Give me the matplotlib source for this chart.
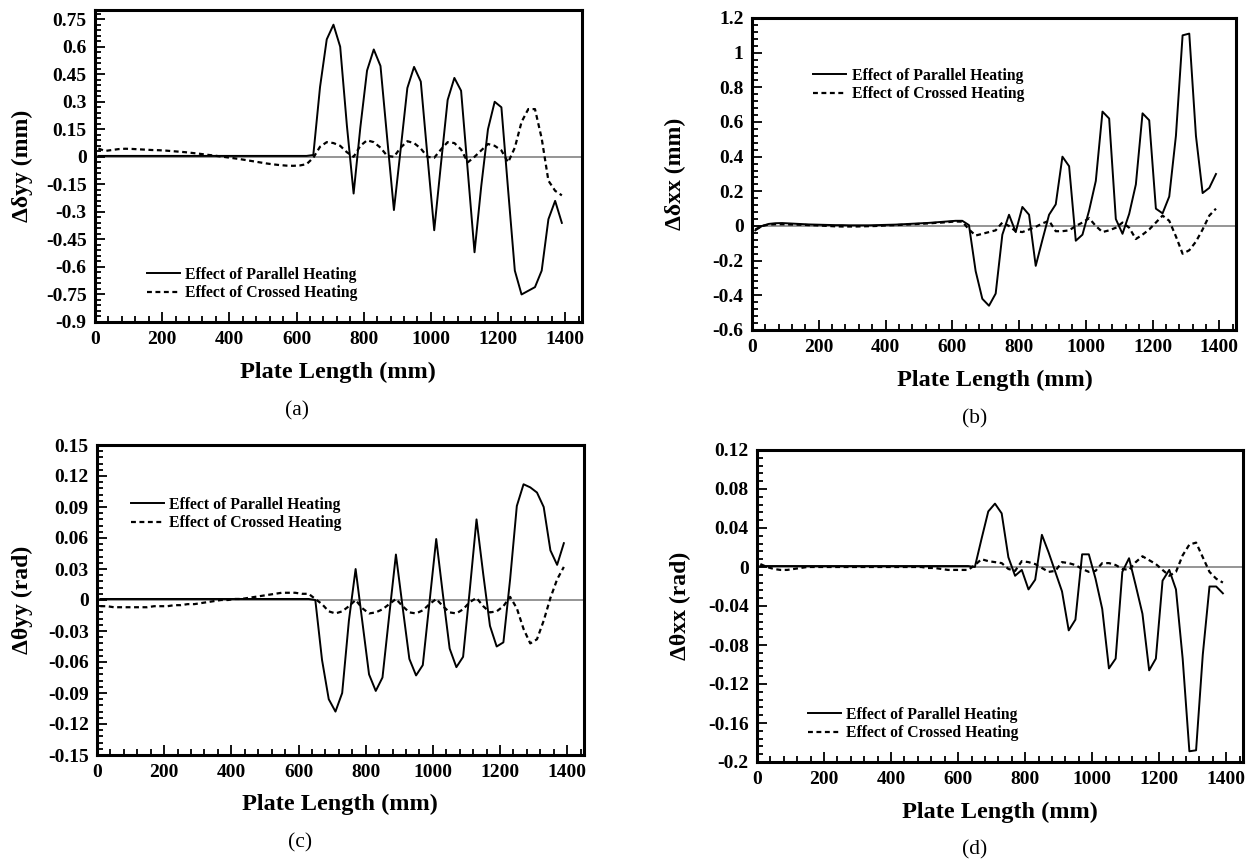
import matplotlib
matplotlib.use("Agg")
import matplotlib.pyplot as plt
from matplotlib.ticker import AutoMinorLocator

plt.rcParams['font.family'] = ['Liberation Serif', 'DejaVu Serif']
plt.rcParams['axes.unicode_minus'] = False

# plate length positions (mm)
x = [10, 30, 50, 70, 90, 110, 130, 150, 170, 190,
     210, 230, 250, 270, 290, 310, 330, 350, 370, 390,
     410, 430, 450, 470, 490, 510, 530, 550, 570, 590,
     610, 630, 650, 670, 690, 710, 730, 750, 770, 790,
     810, 830, 850, 870, 890, 910, 930, 950, 970, 990,
     1010, 1030, 1050, 1070, 1090, 1110, 1130, 1150, 1170, 1190,
     1210, 1230, 1250, 1270, 1290, 1310, 1330, 1350, 1370, 1390]

# (a) delta delta_yy (mm)
dyy_par = [0.005, 0.005, 0.005, 0.005, 0.005, 0.005, 0.005, 0.005, 0.005, 0.005,
           0.005, 0.005, 0.005, 0.005, 0.005, 0.005, 0.005, 0.005, 0.005, 0.005,
           0.005, 0.005, 0.005, 0.005, 0.005, 0.005, 0.005, 0.005, 0.005, 0.005,
           0.005, 0.005, 0.01, 0.38, 0.64, 0.72, 0.60, 0.17, -0.20, 0.16,
           0.47, 0.585, 0.495, 0.10, -0.29, 0.04, 0.375, 0.49, 0.41, 0.0,
           -0.40, -0.04, 0.31, 0.43, 0.36, -0.08, -0.52, -0.16, 0.15, 0.30,
           0.27, -0.18, -0.62, -0.75, -0.73, -0.71, -0.62, -0.34, -0.24, -0.36]
dyy_cr = [0.045, 0.032, 0.037, 0.042, 0.044, 0.043, 0.041, 0.039, 0.037, 0.036,
          0.034, 0.031, 0.028, 0.025, 0.021, 0.017, 0.012, 0.008, 0.003, -0.002,
          -0.007, -0.012, -0.018, -0.024, -0.030, -0.036, -0.041, -0.045, -0.048, -0.049,
          -0.047, -0.040, -0.005, 0.055, 0.08, 0.075, 0.06, 0.025, 0.0, 0.06,
          0.09, 0.08, 0.05, 0.005, 0.0, 0.05, 0.085, 0.075, 0.045, 0.0,
          -0.005, 0.04, 0.08, 0.075, 0.04, -0.03, 0.0, 0.035, 0.07, 0.06,
          0.035, -0.03, 0.05, 0.19, 0.26, 0.26, 0.10, -0.13, -0.185, -0.21]

# (b) delta delta_xx (mm)
dxx_par = [-0.025, 0.0, 0.012, 0.016, 0.017, 0.015, 0.013, 0.011, 0.009, 0.008,
           0.007, 0.006, 0.005, 0.005, 0.004, 0.004, 0.004, 0.004, 0.005, 0.006,
           0.007, 0.008, 0.010, 0.012, 0.014, 0.016, 0.018, 0.021, 0.024, 0.027,
           0.030, 0.030, 0.005, -0.26, -0.42, -0.46, -0.39, -0.05, 0.065, -0.035,
           0.11, 0.065, -0.23, -0.08, 0.065, 0.125, 0.40, 0.345, -0.085, -0.05,
           0.09, 0.26, 0.66, 0.62, 0.04, -0.045, 0.07, 0.24, 0.65, 0.61,
           0.10, 0.073, 0.17, 0.52, 1.10, 1.11, 0.52, 0.19, 0.22, 0.30]
dxx_cr = [-0.02, 0.0, 0.008, 0.01, 0.01, 0.009, 0.008, 0.007, 0.005, 0.004,
          0.002, 0.0, -0.002, -0.003, -0.003, -0.003, -0.002, -0.001, 0.0, 0.002,
          0.004, 0.005, 0.007, 0.009, 0.011, 0.013, 0.015, 0.018, 0.02, 0.023,
          0.026, 0.025, -0.02, -0.055, -0.045, -0.035, -0.025, 0.02, 0.0, -0.03,
          -0.035, -0.02, -0.005, 0.015, 0.03, -0.03, -0.03, -0.025, 0.0, 0.02,
          0.045, 0.0, -0.035, -0.025, -0.01, 0.02, -0.01, -0.075, -0.05, -0.02,
          0.02, 0.06, 0.03, -0.06, -0.16, -0.14, -0.09, -0.02, 0.06, 0.10]

# (c) delta theta_yy (rad)
tyy_par = [0.001, 0.001, 0.001, 0.001, 0.001, 0.001, 0.001, 0.001, 0.001, 0.001,
           0.001, 0.001, 0.001, 0.001, 0.001, 0.001, 0.001, 0.001, 0.001, 0.001,
           0.001, 0.001, 0.001, 0.001, 0.001, 0.001, 0.001, 0.001, 0.001, 0.001,
           0.001, 0.001, 0.0, -0.058, -0.096, -0.108, -0.09, -0.02, 0.03, -0.021,
           -0.072, -0.088, -0.075, -0.015, 0.044, -0.007, -0.057, -0.073, -0.063, -0.002,
           0.059, 0.005, -0.047, -0.065, -0.055, 0.01, 0.078, 0.025, -0.025, -0.045,
           -0.041, 0.02, 0.091, 0.112, 0.109, 0.104, 0.09, 0.048, 0.034, 0.055]
tyy_cr = [-0.006, -0.006, -0.007, -0.007, -0.007, -0.007, -0.007, -0.007, -0.006, -0.006,
          -0.006, -0.005, -0.005, -0.004, -0.004, -0.003, -0.002, -0.001, 0.0, 0.0,
          0.001, 0.001, 0.002, 0.003, 0.004, 0.005, 0.006, 0.007, 0.007, 0.007,
          0.006, 0.006, 0.001, -0.004, -0.011, -0.013, -0.011, -0.006, 0.0, -0.008,
          -0.013, -0.012, -0.009, -0.004, 0.001, -0.006, -0.012, -0.013, -0.01, -0.004,
          0.001, -0.006, -0.012, -0.013, -0.009, -0.002, 0.002, -0.006, -0.012, -0.011,
          -0.006, 0.003, -0.008, -0.028, -0.042, -0.038, -0.02, 0.002, 0.02, 0.032]

# (d) delta theta_xx (rad)
txx_par = [0.001, 0.001, 0.001, 0.001, 0.001, 0.001, 0.001, 0.001, 0.001, 0.001,
           0.001, 0.001, 0.001, 0.001, 0.001, 0.001, 0.001, 0.001, 0.001, 0.001,
           0.001, 0.001, 0.001, 0.001, 0.001, 0.001, 0.001, 0.001, 0.001, 0.001,
           0.001, 0.001, 0.0, 0.029, 0.057, 0.065, 0.055, 0.010, -0.009, -0.003,
           -0.023, -0.013, 0.033, 0.015, -0.005, -0.025, -0.065, -0.054, 0.013, 0.013,
           -0.012, -0.043, -0.104, -0.094, -0.005, 0.009, -0.019, -0.048, -0.106, -0.094,
           -0.014, -0.003, -0.023, -0.094, -0.189, -0.188, -0.09, -0.02, -0.02, -0.027]
txx_cr = [0.003, 0.0, -0.002, -0.003, -0.003, -0.002, -0.001, 0.0, 0.0, 0.0,
          0.0, 0.0, 0.0, 0.0, 0.0, 0.0, 0.0, 0.0, 0.0, 0.0,
          0.0, 0.0, 0.0, 0.0, 0.0, -0.001, -0.001, -0.002, -0.003, -0.003,
          -0.003, -0.003, 0.002, 0.008, 0.006, 0.005, 0.004, -0.002, -0.004, 0.006,
          0.005, 0.003, -0.001, -0.005, -0.004, 0.005, 0.004, 0.002, -0.002, -0.005,
          -0.004, 0.004, 0.004, 0.002, -0.002, -0.003, 0.005, 0.011, 0.007, 0.003,
          -0.003, -0.009, -0.005, 0.012, 0.023, 0.025, 0.01, -0.005, -0.012, -0.016]

xticks = [0, 200, 400, 600, 800, 1000, 1200, 1400]
yticks_a = [-0.9, -0.75, -0.6, -0.45, -0.3, -0.15, 0, 0.15, 0.3, 0.45, 0.6, 0.75]
yticks_b = [-0.6, -0.4, -0.2, 0, 0.2, 0.4, 0.6, 0.8, 1, 1.2]
yticks_c = [-0.15, -0.12, -0.09, -0.06, -0.03, 0, 0.03, 0.06, 0.09, 0.12, 0.15]
yticks_d = [-0.2, -0.16, -0.12, -0.08, -0.04, 0, 0.04, 0.08, 0.12]

W, H = 1252, 861
fig = plt.figure(figsize=(W / 100, H / 100), dpi=100)


def panel(box, par, cr, yticks, ylim, ylabel, ylab_xy, xlab_xy, cap, cap_xy, leg_xy):
    l, t, r, b = box
    ax = fig.add_axes([l / W, 1 - b / H, (r - l) / W, (b - t) / H])
    ax.axhline(0, color='#8c8c8c', lw=1.3, zorder=1)
    ax.plot(x, par, color='black', lw=1.4, label='Effect of Parallel Heating', zorder=3)
    ax.plot(x, cr, color='black', lw=1.6, ls=(0, (2.2, 1.6)),
            label='Effect of Crossed Heating', zorder=2)
    ax.set_xlim(0, 1450)
    ax.set_ylim(*ylim)
    ax.set_xticks(xticks)
    ax.set_xticklabels([str(v) for v in xticks])
    ax.set_yticks(yticks)
    ax.set_yticklabels(['%g' % v for v in yticks])
    ax.xaxis.set_minor_locator(AutoMinorLocator(5))
    ax.yaxis.set_minor_locator(AutoMinorLocator(5))
    ax.tick_params(which='both', direction='in', top=False, right=False, width=1.3)
    ax.tick_params(which='major', length=7, labelsize=14)
    ax.tick_params(which='minor', length=4)
    ax.tick_params(axis='x', pad=6.5)
    ax.tick_params(axis='y', pad=6)
    for lab in ax.get_xticklabels() + ax.get_yticklabels():
        lab.set_fontweight('bold')
    for s in ax.spines.values():
        s.set_linewidth(2.2)
    ax.legend(loc='upper left', bbox_to_anchor=leg_xy, frameon=False,
              borderpad=0, handlelength=2.1, handletextpad=0.35,
              labelspacing=0.15, prop={'weight': 'bold', 'size': 11.3})
    fig.text(ylab_xy[0] / W, 1 - ylab_xy[1] / H, ylabel, rotation=90,
             ha='center', va='center', fontsize=17, fontweight='bold')
    fig.text(xlab_xy[0] / W, 1 - xlab_xy[1] / H, 'Plate Length (mm)',
             ha='center', va='center', fontsize=17.5, fontweight='bold')
    fig.text(cap_xy[0] / W, 1 - cap_xy[1] / H, cap,
             ha='center', va='center', fontsize=15.5)
    return ax


panel((95, 10, 582, 322), dyy_par, dyy_cr, yticks_a, (-0.9, 0.8),
      'Δδyy (mm)', (22, 166), (338, 372), '(a)', (297, 411), (0.09, 0.202))
panel((752, 18, 1236, 330), dxx_par, dxx_cr, yticks_b, (-0.6, 1.2),
      'Δδxx (mm)', (675, 174), (995, 380), '(b)', (975, 419), (0.11, 0.865))
panel((97, 445, 584, 755), tyy_par, tyy_cr, yticks_c, (-0.15, 0.15),
      'Δθyy (rad)', (22, 600), (340, 804), '(c)', (300, 843), (0.053, 0.858))
panel((757, 450, 1243, 762), txx_par, txx_cr, yticks_d, (-0.2, 0.12),
      'Δθxx (rad)', (680, 606), (1000, 812), '(d)', (975, 850), (0.088, 0.202))

fig.savefig('out.png', dpi=100)
